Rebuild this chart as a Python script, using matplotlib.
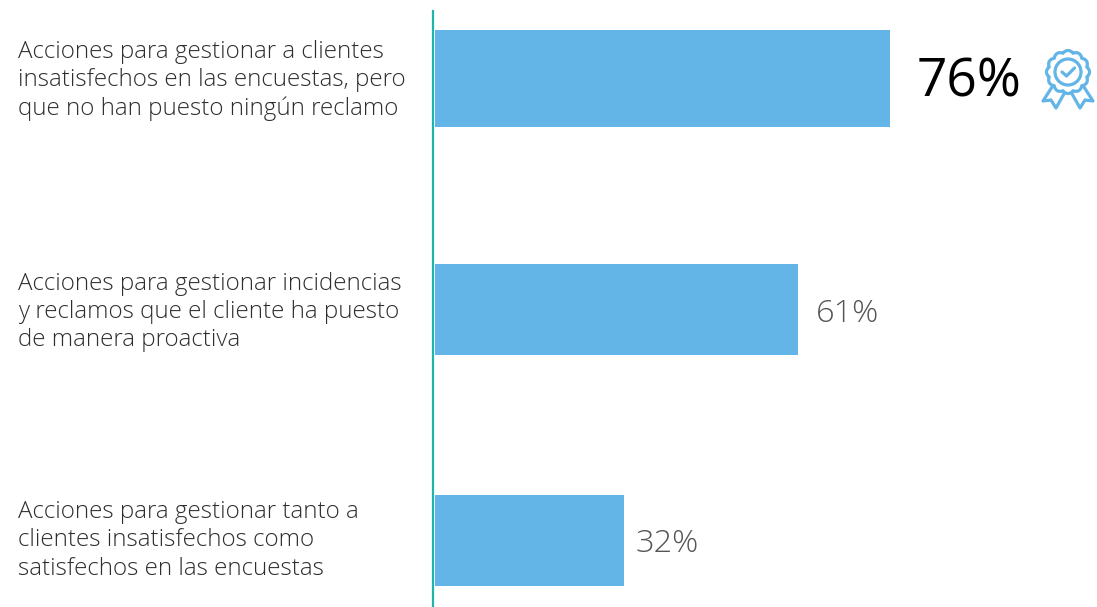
import numpy as np
import matplotlib
matplotlib.use('Agg')
import matplotlib.pyplot as plt
from matplotlib.patches import Circle, Polygon

plt.rcParams['font.family'] = ['Open Sans', 'DejaVu Sans']

categories = [
    'Acciones para gestionar a clientes\ninsatisfechos en las encuestas, pero\nque no han puesto ningún reclamo',
    'Acciones para gestionar incidencias\ny reclamos que el cliente ha puesto\nde manera proactiva',
    'Acciones para gestionar tanto a\nclientes insatisfechos como\nsatisfechos en las encuestas',
]
values = [76.0, 60.7, 31.6]
value_labels = ['76%', '61%', '32%']

W, H = 1097, 607
BLUE = '#62B5E6'
TEAL = '#1FB5AD'

fig = plt.figure(figsize=(W / 100, H / 100), dpi=100)

# axes start where the bars start, y range set so bars land on the reference rows
ax = fig.add_axes([435 / W, 0, (W - 435) / W, 1])
ax.barh([0], values[:1], height=0.42, color=BLUE)
ax.barh([1, 2], values[1:], height=0.397, color=BLUE)
ax.set_xlim(0, (W - 435) / 5.987)
ax.set_ylim((H - 78.5) / 231, -78.5 / 231)
ax.axis('off')

# vertical axis line
fig.add_artist(plt.Line2D([433.4 / W, 433.4 / W], [0, 1 - 11 / H], color=TEAL, lw=1.6))

# category labels
label_y = [80.7, 312.2, 540.5]
for txt, y in zip(categories, label_y):
    fig.text(18 / W, 1 - y / H, txt, fontsize=17.35, color='#2e2e2e', va='center', ha='left',
             linespacing=1.23, fontweight='light')

# value labels
ax.text(values[0] + 4.5, -0.008, value_labels[0], fontsize=38.3, color='black', va='center_baseline', fontweight='normal')
ax.text(values[1] + 3, 1, value_labels[1], fontsize=23.4, color='#555555', va='center_baseline', fontweight='light')
ax.text(values[2] + 1.9, 2, value_labels[2], fontsize=23.4, color='#555555', va='center_baseline', fontweight='light')

# ribbon badge icon, drawn in pixels around its centre
icon = fig.add_axes([1038 / W, 1 - 112 / H, 60 / W, 64 / H])
icon.set_xlim(-30, 30)
icon.set_ylim(-40, 24)
icon.axis('off')
icon.set_aspect('equal')
lw = 2.3
icon.add_patch(Polygon([(-14, -12), (-25, -29), (-17, -28), (-12, -36), (-3, -20)], closed=True,
                       fc='white', ec=BLUE, lw=lw, joinstyle='round'))
icon.add_patch(Polygon([(14, -12), (25, -29), (17, -28), (12, -36), (3, -20)], closed=True,
                       fc='white', ec=BLUE, lw=lw, joinstyle='round'))
t = np.linspace(0, 2 * np.pi, 361)
r = 19.5 + 2 * np.abs(np.cos(6 * t))
icon.add_patch(Polygon(np.c_[r * np.cos(t), r * np.sin(t)], closed=True, fc='white', ec=BLUE, lw=lw))
icon.add_patch(Circle((0, 0), 13, fc='none', ec=BLUE, lw=lw))
icon.plot([-6, -1.5, 6.5], [0, -4, 4], color=BLUE, lw=lw, solid_capstyle='round', solid_joinstyle='round')

fig.savefig('out.png', dpi=100)
